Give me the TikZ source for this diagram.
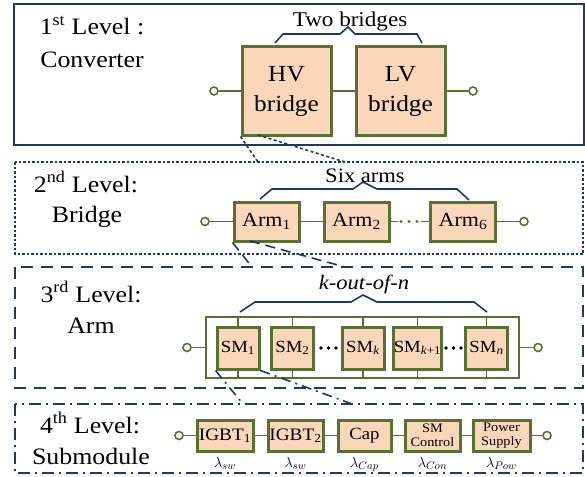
\documentclass[tikz,border=0pt]{standalone}
\usepackage{fontspec}
\setmainfont{Liberation Serif}[FakeStretch=1.1]
\definecolor{olv}{RGB}{88,112,50}
\definecolor{peach}{RGB}{250,214,186}
\definecolor{navy}{RGB}{31,56,100}
\tikzset{
  blk/.style={draw=olv, fill=peach, line width=3pt, inner sep=0pt, align=center},
  wire/.style={draw=olv, line width=1.8pt},
  term/.style={circle, draw=olv, fill=white, line width=1.6pt, minimum size=8pt, inner sep=0pt},
  lbl/.style={font=\fontsize{23.5}{28}\selectfont, inner sep=0pt, anchor=base},
  brc/.style={draw=navy, line width=1.6pt, line join=miter},
  lvlbox/.style={draw=navy, line width=2.2pt},
  zl/.style={draw=navy, line width=1.6pt},
  lam/.style={font=\fontsize{15}{15}\selectfont, inner sep=0pt, anchor=base},
}
\begin{document}
\begin{tikzpicture}[x=1pt,y=-1pt]
\useasboundingbox (0,0) rectangle (585,476);
% level frames
\draw[lvlbox] (14,4) rectangle (584,145);
\draw[lvlbox, dash pattern=on 2.5pt off 2pt] (15,162) rectangle (583,254);
\draw[lvlbox, line width=2.4pt, dash pattern=on 12pt off 8pt] (15,267) rectangle (583,388);
\draw[lvlbox, line width=2.4pt, dash pattern=on 12pt off 5pt on 2pt off 5pt] (15,404) rectangle (583,473);
% level labels
\node[lbl] (l1a) at (92,35) {1\textsuperscript{st} Level :};
\node[lbl] (l1b) at (92,68) {Converter};
\node[lbl] (l2a) at (86,192) {2\textsuperscript{nd} Level:};
\node[lbl] (l2b) at (87,222) {Bridge};
\node[lbl] (l3a) at (91,302) {3\textsuperscript{rd} Level:};
\node[lbl] (l3b) at (91,333) {Arm};
\node[lbl] (l4a) at (90,433) {4\textsuperscript{th} Level:};
\node[lbl] (l4b) at (91,464) {Submodule};

% ---------- level 1
\node[blk, minimum width=89pt, minimum height=88pt, font=\fontsize{23}{30}\selectfont] (hv) at (286.5,91) {HV\\bridge};
\node[blk, minimum width=89pt, minimum height=88pt, font=\fontsize{23}{30}\selectfont] (lv) at (400.5,91) {LV\\bridge};
\node[term] (t1l) at (214,91) {};
\node[term] (t1r) at (473,91) {};
\draw[wire] (t1l) -- (hv);
\draw[wire] (hv) -- (lv);
\draw[wire] (lv) -- (t1r);
\draw[brc] (275,43) -- (283,34) -- (340,34) -- (348,27) -- (355,34) -- (417,34) -- (422,43);
\node[font=\fontsize{21}{21}\selectfont, inner sep=0pt, anchor=base] (twob) at (350,27) {Two bridges};

% ---------- level 2
\node[blk, minimum width=65pt, minimum height=39pt, font=\fontsize{20}{20}\selectfont] (arm1) at (266.5,221.5) {Arm\textsubscript{1}};
\node[blk, minimum width=65pt, minimum height=39pt, font=\fontsize{20}{20}\selectfont] (arm2) at (356.5,221.5) {Arm\textsubscript{2}};
\node[blk, minimum width=65pt, minimum height=39pt, font=\fontsize{20}{20}\selectfont] (arm6) at (463,221.5) {Arm\textsubscript{6}};
\node[term] (t2l) at (205,221.5) {};
\node[term] (t2r) at (524,221.5) {};
\draw[wire] (t2l) -- (arm1);
\draw[wire] (arm1) -- (arm2);
\draw[wire] (arm2.east) -- ++(7,0);
\draw[wire] (arm6.west) -- ++(-8,0);
\fill[olv] (401,221.5) circle (1.6) (409,221.5) circle (1.6) (417,221.5) circle (1.6);
\draw[wire] (arm6) -- (t2r);
\draw[brc] (260,199) -- (272,189) -- (353,189) -- (363,182) -- (377,189) -- (457,189) -- (469,200);
\node[font=\fontsize{20.5}{20}\selectfont, inner sep=0pt, anchor=base] (sixa) at (365,182) {Six arms};

% zoom lines 1 -> 2
\coordinate (z1a) at (258,162);
\coordinate (z1b) at (345,162);
\coordinate (hvb) at (258,135);
\draw[zl, dash pattern=on 3pt off 2.5pt] (hv.south west) -- (z1a);
\draw[zl, dash pattern=on 3pt off 2.5pt] (hvb) -- (z1b);

% ---------- level 3
\node[draw=olv, line width=1.6pt, minimum width=313pt, minimum height=61pt, inner sep=0pt] (rail) at (362.5,347.5) {};
\node[term] (t3l) at (187,347.5) {};
\node[term] (t3r) at (538,347.5) {};
\draw[wire] (t3l) -- (rail.west);
\draw[wire] (rail.east) -- (t3r);
\node[blk, minimum width=42pt, minimum height=42pt, font=\fontsize{17}{17}\selectfont] (sm1) at (238,348) {SM\textsubscript{1}};
\node[blk, minimum width=42pt, minimum height=42pt, font=\fontsize{17}{17}\selectfont] (sm2) at (292.5,348) {SM\textsubscript{2}};
\node[blk, minimum width=42pt, minimum height=42pt, font=\fontsize{17}{17}\selectfont] (smk) at (363,348) {SM\textsubscript{\textit{k}}};
\node[blk, minimum width=45pt, minimum height=42pt, font=\fontsize{17}{17}\selectfont] (smk1) at (417.5,348) {SM\textsubscript{\textit{k}+1}};
\node[blk, minimum width=42pt, minimum height=42pt, font=\fontsize{17}{17}\selectfont] (smn) at (486.5,348) {SM\textsubscript{\textit{n}}};
\foreach \s in {sm1,sm2,smk,smk1,smn}{
  \draw[wire, line width=1.6pt] (\s.north) -- (\s.north |- rail.north);
  \draw[wire, line width=1.6pt] (\s.south) -- (\s.south |- rail.south);
}
\fill (321,348) circle (1.9) (328.5,348) circle (1.9) (336,348) circle (1.9);
\fill (446,348) circle (1.9) (453.5,348) circle (1.9) (461,348) circle (1.9);
\draw[brc] (240,312) -- (255,302) -- (351,302) -- (363,295) -- (377,302) -- (474,302) -- (487,312);
\node[font=\fontsize{20.5}{20}\selectfont\itshape, inner sep=0pt, anchor=base] (kon) at (364,289) {k-out-of-n};

% zoom lines 2 -> 3
\coordinate (z2a) at (252,267);
\coordinate (z2b) at (345,267);
\coordinate (armb) at (250,241);
\draw[zl, dash pattern=on 10pt off 6pt] (arm1.south west) -- (z2a);
\draw[zl, dash pattern=on 10pt off 6pt] (armb) -- (z2b);

% ---------- level 4
\node[blk, minimum width=56pt, minimum height=31pt, font=\fontsize{17.5}{17}\selectfont] (ig1) at (225,435.5) {IGBT\textsubscript{1}};
\node[blk, minimum width=55pt, minimum height=31pt, font=\fontsize{17.5}{17}\selectfont] (ig2) at (295.5,435.5) {IGBT\textsubscript{2}};
\node[blk, minimum width=53pt, minimum height=31pt, font=\fontsize{17}{17}\selectfont] (cap) at (364.5,435.5) {Cap};
\node[blk, minimum width=55pt, minimum height=31pt, font=\fontsize{13}{13.5}\selectfont] (smc) at (432.5,435.5) {SM\\Control};
\node[blk, minimum width=57pt, minimum height=31pt, font=\fontsize{13}{13.5}\selectfont] (pws) at (501.5,435.5) {Power\\Supply};
\node[term] (t4l) at (179,435.5) {};
\node[term] (t4r) at (547,435.5) {};
\draw[wire] (t4l) -- (ig1);
\draw[wire] (ig1) -- (ig2);
\draw[wire] (ig2) -- (cap);
\draw[wire] (cap) -- (smc);
\draw[wire] (smc) -- (pws);
\draw[wire] (pws) -- (t4r);
\node[lam] (la1) at (225,467) {$\lambda_{sw}$};
\node[lam] (la2) at (295.5,467) {$\lambda_{sw}$};
\node[lam] (la3) at (364.5,467) {$\lambda_{Cap}$};
\node[lam] (la4) at (432.5,467) {$\lambda_{Con}$};
\node[lam] (la5) at (501.5,467) {$\lambda_{Pow}$};

% zoom lines 3 -> 4
\coordinate (z3a) at (243,404);
\coordinate (z3b) at (352,404);
\draw[zl, dash pattern=on 10pt off 5pt on 2pt off 5pt] (sm1.south west) -- (z3a);
\draw[zl, dash pattern=on 10pt off 5pt on 2pt off 5pt] (sm1.south east) -- (z3b);
\end{tikzpicture}
\end{document}
